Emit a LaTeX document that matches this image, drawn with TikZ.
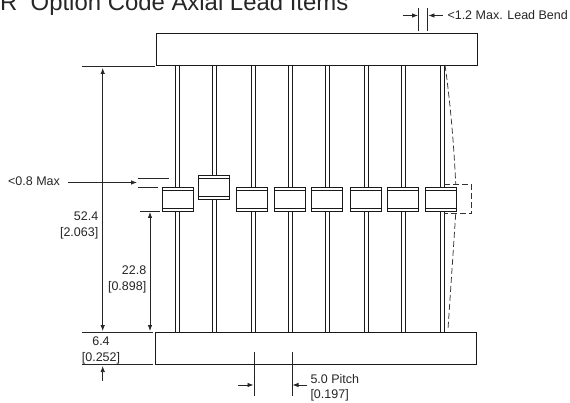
\documentclass[tikz,border=0pt]{standalone}
\usepackage{fontspec}
\setmainfont{Liberation Sans}
\usetikzlibrary{arrows.meta}
\begin{document}
\begin{tikzpicture}[x = 1pt, y = -1pt, font = \fontsize{12.5}{15.3}\selectfont, >={Latex[length=6pt,width=4.5pt]},
  part/.style = {line width = 0.9pt, black!90},
  dim/.style = {line width = 0.75pt, black!85},
  bentpart/.style = {line width = 0.75pt, black!80, dash pattern = on 6pt off 3pt},
  dimtext/.style = {inner sep = 0pt, text = black!85}]
\useasboundingbox (0,0) rectangle (570,403);
\node [anchor = base west, inner sep = 0pt, font = \fontsize{23.9}{26}\selectfont, text = black!85] (title) at (0,11) {R\ \ Option Code Axial Lead Items};
% leads, then bodies on top
\foreach \x/\b/\t in {175.5/162/187.5, 212/198.7/175.7, 251/236.4/187.5, 288.3/274.3/187.5, 325.7/311.3/187.5, 364/350/187.5, 401.7/387.3/187.5, 440/425/187.5}
{
\draw [part] (\x,65) -- (\x,332);
\draw [part] (\x+4.2,65) -- (\x+4.2,332);
\draw [part, fill = white] (\b,\t) rectangle (\b+31,\t+24);
\draw [part] (\b,\t+3) -- (\b+31,\t+3);
\draw [part] (\b,\t+20.5) -- (\b+31,\t+20.5);
}
\draw [part] (156.5,33) rectangle (477,65);
\draw [part] (155,332) rectangle (476,364.5);
% bent position of the last item
\draw [bentpart] (445,65) .. controls (450,100) and (454,145) .. (455.7,184);
\draw [bentpart] (444,184.5) -- (471.7,184.5) -- (471.7,213.7) -- (444,213.7);
\draw [bentpart] (455.7,214) -- (448,329);
% extension lines
\draw [dim] (81.5,66.5) -- (154.5,66.5);
\draw [dim] (81.5,332) -- (153,332);
\draw [dim] (81.5,364.5) -- (153,364.5);
\draw [dim] (139.5,211) -- (160,211);
\draw [dim] (137.5,178.5) -- (169,178.5);
\draw [dim] (137.5,187.5) -- (158,187.5);
\draw [dim] (418.7,8.3) -- (418.7,30.7);
\draw [dim] (427.7,8.3) -- (427.7,30.7);
\draw [dim] (254,351.7) -- (254,395.7);
\draw [dim] (292,351.7) -- (292,395.7);
% dimensions
\draw [dim, <->] (102.7,68) -- (102.7,331);
\draw [dim, <-] (102.7,366) -- (102.7,381);
\draw [dim, <->] (150,212) -- (150,331);
\draw [dim, ->] (402.7,15.5) -- (418,15.5);
\draw [dim, ->] (442.7,15.5) -- (428.4,15.5);
\draw [dim, ->] (238.3,385) -- (253.5,385);
\draw [dim, ->] (306.7,385) -- (292.5,385);
\node [dimtext, anchor = west] (maxlabel) at (8,181) {<0.8 Max};
\draw [dim, ->] (67.5,182.5) -- (137,182.5);
\node [dimtext, anchor = west] (bendlabel) at (447.3,15) {<1.2 Max. Lead Bend};
\node [dimtext, align = right, anchor = east] (overall) at (98.5,225.3) {52.4\\{[2.063]}};
\node [dimtext, align = right, anchor = east] (body) at (146.5,279.5) {22.8\\{[0.898]}};
\node [dimtext, align = center] (spacing) at (101,350.5) {6.4\\{[0.252]}};
\node [dimtext, align = left, anchor = west] (pitch) at (310.3,387.5) {5.0 Pitch\\{[0.197]}};
\end{tikzpicture}
\end{document}
